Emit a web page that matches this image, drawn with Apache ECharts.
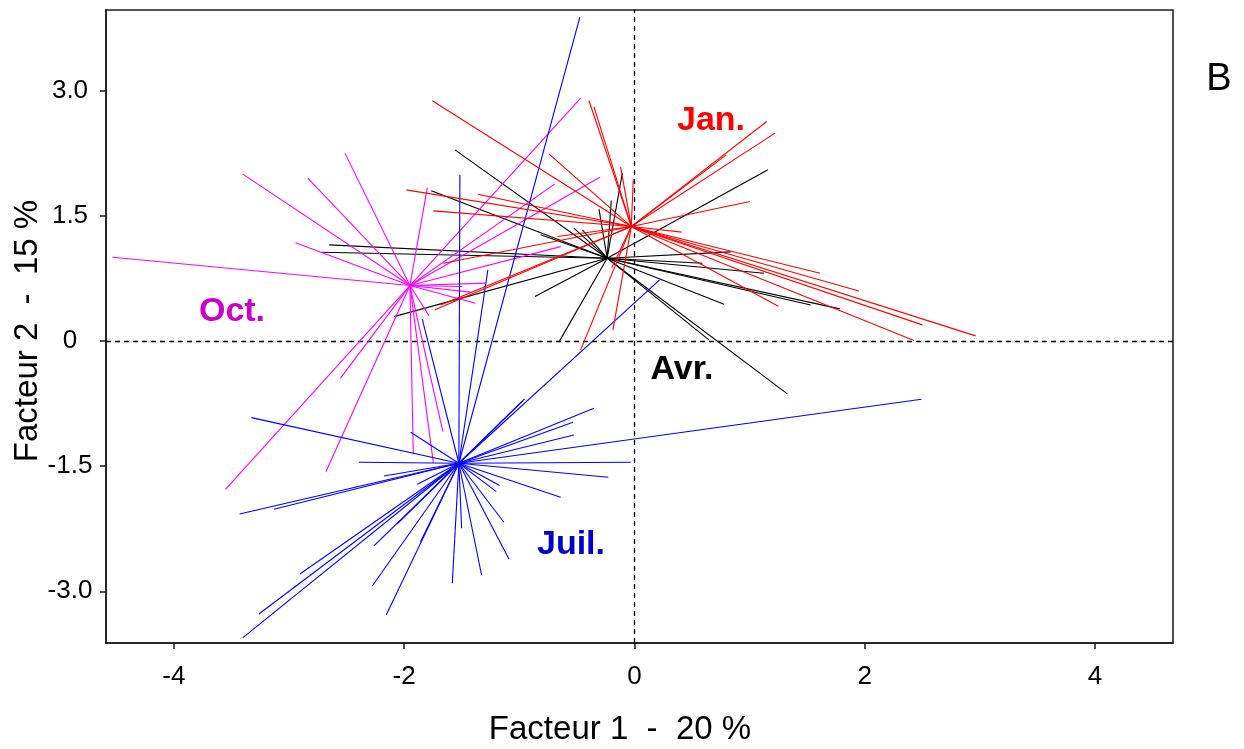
<!DOCTYPE html>
<html>
<head>
<meta charset="utf-8">
<script src="https://cdn.jsdelivr.net/npm/echarts@6/dist/echarts.min.js"></script>
<style>
html,body{margin:0;padding:0;background:#fff;}
#c{width:1244px;height:749px;}
</style>
</head>
<body>
<div id="c"></div>
<script>
// ---- data (Facteur 1, Facteur 2) ----
var xTicks = [-4, -2, 0, 2, 4];
var yTicks = [-3, -1.5, 0, 1.5, 3];
var groupNames = ['Oct.', 'Juil.', 'Avr.', 'Jan.'];

var octCenter = [-1.950, 0.663];
var octPoints = [
  [-4.534, 1.003], [-3.401, 1.998], [-2.837, 1.950], [-2.515, 2.250], [-1.799, 1.837],
  [-2.944, 1.175], [-1.380, 0.452], [-1.423, 0.584], [-1.495, 0.651], [-0.467, 2.909],
  [-0.691, 1.882], [-0.300, 1.962], [-0.641, 1.130], [-1.293, 0.692], [-2.553, -0.447],
  [-3.552, -1.778], [-2.680, -1.567], [-1.921, -1.358], [-1.747, -1.459], [-1.664, -1.087],
  [-1.785, 0.303]
];

var juilCenter = [-1.525, -1.466];
var juilPoints = [
  [-3.328, -0.919], [-2.394, -1.454], [-2.176, -1.618], [-1.886, -1.718], [-3.430, -2.074],
  [-3.132, -2.017], [-2.906, -2.793], [-3.262, -3.272], [-3.401, -3.556], [-2.263, -2.457],
  [-2.060, -2.193], [-2.277, -2.937], [-1.858, -2.406], [-2.156, -3.284], [-1.582, -2.904],
  [-1.501, -2.245], [-1.328, -2.805], [-1.090, -2.613], [-1.134, -2.173], [-1.200, -1.806],
  [-1.171, -1.734], [-0.641, -1.873], [-0.227, -1.634], [-0.033, -1.454], [2.493, -0.699],
  [-0.526, -1.127], [-0.534, -0.974], [-0.352, -0.807], [-0.954, -0.695], [-0.971, -0.719],
  [0.219, 0.731], [-1.944, -1.094], [-1.843, 0.260], [-1.516, 1.990], [-1.273, 0.851],
  [-0.474, 3.880]
];

var avrCenter = [-0.237, 0.991];
var avrPoints = [
  [-1.559, 2.289], [-1.765, 1.798], [-2.651, 1.151], [-2.718, 1.063], [-2.089, 0.291],
  [-0.864, 0.531], [-0.650, 0.000], [-0.526, 1.351], [-0.453, 1.330], [-0.308, 1.579],
  [-0.201, 1.682], [-0.105, 2.010], [1.160, 2.050], [-0.815, 1.271], [0.836, 1.067],
  [0.590, 0.931], [1.125, 0.811], [0.778, 0.440], [1.531, 0.431], [1.785, 0.384],
  [1.328, -0.635], [0.647, 0.012]
];

var janCenter = [-0.027, 1.370];
var janPoints = [
  [-1.756, 2.877], [-0.395, 2.877], [-0.352, 2.808], [-0.743, 2.241], [-1.982, 1.810],
  [-1.360, 1.758], [-1.747, 1.558], [-0.120, 2.082], [-0.010, 1.938], [1.149, 2.629],
  [1.221, 2.490], [0.798, 2.229], [1.003, 1.670], [0.410, 1.303], [-1.733, 0.372],
  [-1.684, 0.431], [-0.670, 1.250], [-1.660, 0.931], [-0.467, -0.108], [-0.187, 0.132],
  [-0.198, 0.875], [1.612, 0.811], [1.950, 0.599], [2.501, 0.192], [2.964, 0.060],
  [2.428, 0.004], [1.250, 0.416]
];

// ---- chart ----
var FONT = '"Liberation Sans", Arial, Helvetica, sans-serif';
function star(center, pts) {
  return pts.map(function (p) { return { coords: [center, p] }; });
}
function starSeries(name, center, pts, color, z) {
  return {
    name: name,
    type: 'lines',
    coordinateSystem: 'cartesian2d',
    polyline: false,
    silent: true,
    z: z,
    lineStyle: { color: color, width: 1.1, opacity: 1, curveness: 0 },
    data: star(center, pts)
  };
}

var chart = echarts.init(document.getElementById('c'), null, { renderer: 'canvas' });
chart.setOption({
  animation: false,
  backgroundColor: '#fff',
  grid: { left: 106, top: 10, right: 71, bottom: 106, show: true, borderColor: '#1a1a1a', borderWidth: 1.5, backgroundColor: 'transparent' },
  xAxis: {
    type: 'value', min: -4.59, max: 4.678,
    axisLine: { show: true, onZero: false, lineStyle: { color: '#1a1a1a', width: 1.5 } },
    axisTick: { show: true, customValues: xTicks, length: 6, lineStyle: { color: '#1a1a1a', width: 1.5 } },
    axisLabel: { customValues: xTicks, margin: 21, fontSize: 26, color: '#000', fontFamily: FONT,
      formatter: function (v) { return String(v); } },
    splitLine: { show: false }
  },
  yAxis: {
    type: 'value', min: -3.62, max: 3.965,
    axisLine: { show: true, onZero: false, lineStyle: { color: '#1a1a1a', width: 1.5 } },
    axisTick: { show: true, customValues: yTicks, length: 6, lineStyle: { color: '#1a1a1a', width: 1.5 } },
    axisLabel: { customValues: yTicks, margin: 36, align: 'center', fontSize: 26, color: '#000', fontFamily: FONT,
      formatter: function (v) { return v === 0 ? '0' : v.toFixed(1); } },
    splitLine: { show: false }
  },
  series: [
    {
      type: 'lines', coordinateSystem: 'cartesian2d', silent: true, z: 1,
      lineStyle: { color: '#000', width: 1.3, type: [5, 4], opacity: 1 },
      data: [
        { coords: [[0, -3.62], [0, 3.965]] },
        { coords: [[-4.59, 0], [4.678, 0]] }
      ]
    },
    starSeries(groupNames[2], avrCenter, avrPoints, '#000000', 2),
    starSeries(groupNames[0], octCenter, octPoints, '#ff00ff', 3),
    starSeries(groupNames[1], juilCenter, juilPoints, '#0000ff', 4),
    starSeries(groupNames[3], janCenter, janPoints, '#ff0000', 5)
  ],
  graphic: [
    { type: 'text', x: 620, y: 730, z: 10, style: { text: 'Facteur 1  -  20 %', font: '33px ' + FONT, fill: '#000', textAlign: 'center', textVerticalAlign: 'middle' } },
    { type: 'text', x: 28, y: 331, rotation: Math.PI / 2, z: 10, style: { text: 'Facteur 2  -  15 %', font: '33px ' + FONT, fill: '#000', textAlign: 'center', textVerticalAlign: 'middle' } },
    { type: 'text', x: 1219, y: 80, z: 10, style: { text: 'B', font: '38px ' + FONT, fill: '#000', textAlign: 'center', textVerticalAlign: 'middle' } },
    { type: 'text', x: 711, y: 121, z: 10, style: { text: groupNames[3], font: 'bold 34px ' + FONT, fill: '#ff0000', textAlign: 'center', textVerticalAlign: 'middle' } },
    { type: 'text', x: 232, y: 312, z: 10, style: { text: groupNames[0], font: 'bold 34px ' + FONT, fill: '#cc00cc', textAlign: 'center', textVerticalAlign: 'middle' } },
    { type: 'text', x: 682, y: 370, z: 10, style: { text: groupNames[2], font: 'bold 34px ' + FONT, fill: '#000000', textAlign: 'center', textVerticalAlign: 'middle' } },
    { type: 'text', x: 571, y: 545, z: 10, style: { text: groupNames[1], font: 'bold 34px ' + FONT, fill: '#0000cc', textAlign: 'center', textVerticalAlign: 'middle' } }
  ]
});
</script>
</body>
</html>
